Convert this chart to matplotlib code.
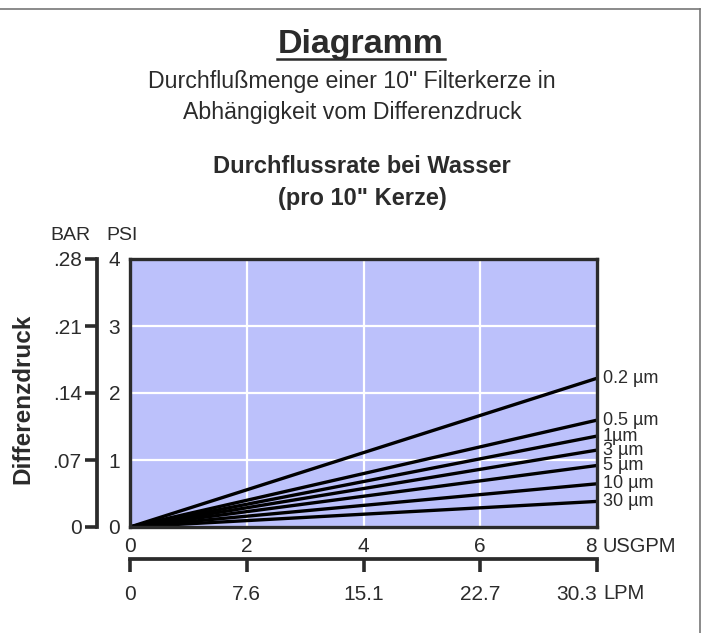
import matplotlib
matplotlib.use("Agg")
import matplotlib.pyplot as plt
from matplotlib.lines import Line2D

# data
filters = ["0.2 µm", "0.5 µm", "1µm", "3 µm", "5 µm", "10 µm", "30 µm"]
flow_usgpm = [0, 8]
# differential pressure (PSI) at 0 and 8 USGPM
psi_02 = [0, 2.22]
psi_05 = [0, 1.595]
psi_1 = [0, 1.357]
psi_3 = [0, 1.148]
psi_5 = [0, 0.918]
psi_10 = [0, 0.645]
psi_30 = [0, 0.382]
series = [psi_02, psi_05, psi_1, psi_3, psi_5, psi_10, psi_30]

usgpm_ticks = [0, 2, 4, 6, 8]
lpm_labels = ["0", "7.6", "15.1", "22.7", "30.3"]
psi_ticks = [0, 1, 2, 3, 4]
bar_labels = ["0", ".07", ".14", ".21", ".28"]

W, H = 705, 633
dark = "#2b2b2b"
font = "Liberation Sans"
plt.rcParams["font.family"] = [font, "DejaVu Sans"]
tick_fs = 15


def px(x, y):
    return x / W, 1 - y / H


fig = plt.figure(figsize=(W / 100, H / 100), dpi=100)

left, right, top, bottom = 130, 597, 259, 527
ax = fig.add_axes([left / W, (H - bottom) / H, (right - left) / W, (bottom - top) / H])
ax.set_facecolor("#bcc1fb")
ax.set_xlim(0, 8)
ax.set_ylim(0, 4)
for s in ax.spines.values():
    s.set_color(dark)
    s.set_linewidth(2.4)
    s.set_zorder(5)
ax.set_xticks(usgpm_ticks)
ax.set_yticks(psi_ticks)
ax.tick_params(axis="both", length=0, labelsize=tick_fs, colors=dark)
ax.tick_params(axis="x", pad=7)
ax.tick_params(axis="y", pad=7)
ax.get_xticklabels()[-1].set_horizontalalignment("right")
ax.grid(True, color="white", linewidth=1.6)
ax.set_axisbelow(True)

for name, vals in zip(filters, series):
    ax.plot(flow_usgpm, vals, color="black", linewidth=2.4, solid_capstyle="butt", zorder=3)
    ax.annotate(name, xy=(flow_usgpm[-1], vals[-1]), xytext=(6, 0),
                textcoords="offset pixels", va="center", ha="left",
                fontsize=13, color=dark, annotation_clip=False)

# BAR axis on the left
bar_ax = ax.secondary_yaxis(-33 / (right - left))
bar_ax.set_yticks(psi_ticks, labels=bar_labels)
bar_ax.spines["left"].set_linewidth(2.7)
bar_ax.spines["left"].set_color(dark)
bar_ax.tick_params(length=9, width=2.6, colors=dark, labelsize=tick_fs, pad=2)

# LPM axis below
lpm_ax = ax.secondary_xaxis(-32 / (bottom - top))
lpm_ax.set_xticks(usgpm_ticks, labels=lpm_labels)
lpm_ax.spines["bottom"].set_linewidth(2.7)
lpm_ax.spines["bottom"].set_color(dark)
lpm_ax.tick_params(length=9.5, width=2.6, colors=dark, labelsize=tick_fs, pad=9)
lpm_ax.get_xticklabels()[-1].set_horizontalalignment("right")

fig.text(*px(602, 552), "USGPM", fontsize=14.5, color=dark, ha="left", va="baseline")
fig.text(*px(603, 599), "LPM", fontsize=14.5, color=dark, ha="left", va="baseline")
fig.text(*px(70, 240), "BAR", fontsize=14, color=dark, ha="center", va="baseline")
fig.text(*px(122, 240), "PSI", fontsize=14, color=dark, ha="center", va="baseline")
fig.text(*px(23, 399), "Differenzdruck", fontsize=17.5, fontweight="bold", color=dark,
         rotation=90, ha="center", va="center")

# titles
fig.text(*px(361, 53), "Diagramm", fontsize=24.5, fontweight="bold", color=dark,
         ha="center", va="baseline")
fig.add_artist(Line2D([277 / W, 445 / W], [1 - 59 / H, 1 - 59 / H], color=dark, linewidth=1.8))
fig.text(*px(352, 88), "Durchflußmenge einer 10\" Filterkerze in", fontsize=16.7,
         color=dark, ha="center", va="baseline")
fig.text(*px(352, 119), "Abhängigkeit vom Differenzdruck", fontsize=16.7,
         color=dark, ha="center", va="baseline")
fig.text(*px(362, 173), "Durchflussrate bei Wasser", fontsize=17, fontweight="bold",
         color=dark, ha="center", va="baseline")
fig.text(*px(362, 205), "(pro 10\" Kerze)", fontsize=17, fontweight="bold",
         color=dark, ha="center", va="baseline")

# frame lines at top and right
fig.add_artist(Line2D([0, 700 / W], [1 - 9 / H, 1 - 9 / H], color="#777777", linewidth=1.2))
fig.add_artist(Line2D([700 / W, 700 / W], [1 - 9 / H, 0], color="#777777", linewidth=1.2))

fig.savefig("out.png", dpi=100)
